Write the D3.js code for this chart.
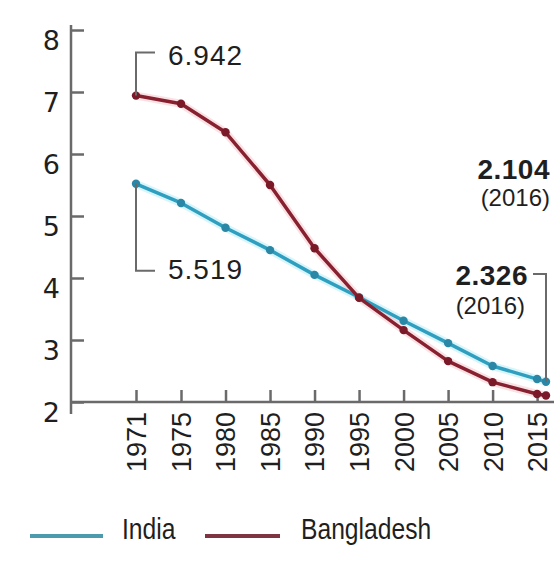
<!DOCTYPE html>
<html>
<head>
<meta charset="utf-8">
<script src="https://cdn.jsdelivr.net/npm/d3@7"></script>
<style>
  html, body { margin: 0; padding: 0; background: #fff; }
  svg { display: block; }
  text { font-family: "Liberation Sans", Arial, sans-serif; fill: #1f1f1f; }
</style>
</head>
<body>
<svg id="chart" width="554" height="574"></svg>
<script>
// Total fertility rate, births per woman
const years      = [1971, 1975, 1980, 1985, 1990, 1995, 2000, 2005, 2010, 2015, 2016];
const tickYears  = [1971, 1975, 1980, 1985, 1990, 1995, 2000, 2005, 2010, 2015];
const india      = [5.519, 5.21, 4.81, 4.45, 4.05, 3.69, 3.31, 2.95, 2.58, 2.37, 2.326];
const bangladesh = [6.942, 6.81, 6.35, 5.50, 4.48, 3.68, 3.16, 2.66, 2.32, 2.13, 2.104];
const yTicks     = [2, 3, 4, 5, 6, 7, 8];
const seriesNames = ["India", "Bangladesh"];

const colors = { India: "#2f9fbf", Bangladesh: "#87202f" };
const halos  = { India: "#a6e8f6", Bangladesh: "#f4bcc4" };
const dots   = { India: "#2a88a6", Bangladesh: "#7a1a28" };

const svg = d3.select("#chart");

// 1971 sits one slot before 1975; the rest are evenly spaced by year
const x = d3.scaleLinear().domain([1971, 1975, 2016]).range([136, 181, 546]);
const y = d3.scaleLinear().domain([2, 8]).range([402, 30]);

const axisColor = "#6a6a6a";

// y axis
const yAxis = svg.append("g")
  .attr("transform", "translate(71,0)")
  .call(d3.axisLeft(y).tickValues(yTicks).tickFormat(d3.format("d"))
    .tickSizeInner(-13).tickSizeOuter(0).tickPadding(11));
yAxis.select(".domain").remove();
yAxis.selectAll(".tick line").attr("stroke", axisColor).attr("stroke-width", 2.5);
yAxis.selectAll(".tick text")
  .attr("dy", "0.71em")
  .style("font-family", "'DejaVu Sans', sans-serif")
  .style("font-size", "27px")
  .attr("fill", "#1f1f1f");
svg.append("line")
  .attr("x1", 71).attr("x2", 71)
  .attr("y1", y(8) - 5).attr("y2", y(2) + 12)
  .attr("stroke", axisColor).attr("stroke-width", 2.5);

// x axis
const xAxis = svg.append("g")
  .attr("transform", `translate(0,${y(2)})`)
  .call(d3.axisBottom(x).tickValues(tickYears).tickFormat(d3.format("d"))
    .tickSizeInner(-12).tickSizeOuter(0));
xAxis.select(".domain").remove();
xAxis.selectAll(".tick line").attr("stroke", axisColor).attr("stroke-width", 2.5);
xAxis.selectAll(".tick text")
  .attr("transform", "rotate(-90)")
  .attr("text-anchor", "end")
  .attr("x", -10)
  .attr("y", 0)
  .attr("dy", "0.35em")
  .style("font-size", "27px")
  .attr("fill", "#1f1f1f");
svg.append("line")
  .attr("x1", 71).attr("x2", 554)
  .attr("y1", y(2)).attr("y2", y(2))
  .attr("stroke", axisColor).attr("stroke-width", 2.5);

// series
const series = [
  { name: seriesNames[0], values: india },
  { name: seriesNames[1], values: bangladesh }
];
const line = d3.line()
  .x((d, i) => x(years[i]))
  .y(d => y(d))
  .curve(d3.curveLinear);

const g = svg.append("g");
series.forEach(s => {
  g.append("path")
    .attr("d", line(s.values))
    .attr("fill", "none")
    .attr("stroke", halos[s.name])
    .attr("stroke-width", 8)
    .attr("stroke-opacity", 0.45)
    .attr("stroke-linejoin", "round");
});
series.forEach(s => {
  g.append("path")
    .attr("d", line(s.values))
    .attr("fill", "none")
    .attr("stroke", colors[s.name])
    .attr("stroke-width", 3.5)
    .attr("stroke-linejoin", "round");
  g.selectAll(null)
    .data(s.values)
    .join("circle")
    .attr("cx", (d, i) => x(years[i]))
    .attr("cy", d => y(d))
    .attr("r", 4.2)
    .attr("fill", dots[s.name]);
});

// annotations
const ann = svg.append("g");
const bracket = { stroke: "#6a6a6a", width: 2 };

const b0x = x(years[0]), b0y = y(bangladesh[0]);
ann.append("path")
  .attr("d", `M${b0x},${b0y}V${b0y - 43}H${b0x + 19}`)
  .attr("fill", "none").attr("stroke", bracket.stroke).attr("stroke-width", bracket.width);
ann.append("text")
  .attr("x", b0x + 32).attr("y", b0y - 31)
  .style("font-size", "28px").style("letter-spacing", "1px")
  .text(d3.format(".3f")(bangladesh[0]));

const i0x = x(years[0]), i0y = y(india[0]);
ann.append("path")
  .attr("d", `M${i0x},${i0y}V${i0y + 87}H${i0x + 19}`)
  .attr("fill", "none").attr("stroke", bracket.stroke).attr("stroke-width", bracket.width);
ann.append("text")
  .attr("x", i0x + 32).attr("y", i0y + 95)
  .style("font-size", "28px").style("letter-spacing", "1px")
  .text(d3.format(".3f")(india[0]));

const last = years.length - 1;
const iLx = x(years[last]), iLy = y(india[last]);
ann.append("path")
  .attr("d", `M${iLx},${iLy}V274H${iLx - 13}`)
  .attr("fill", "none").attr("stroke", bracket.stroke).attr("stroke-width", bracket.width);
ann.append("text")
  .attr("x", 528).attr("y", 285).attr("text-anchor", "end")
  .style("font-size", "28px").style("font-weight", "bold").style("letter-spacing", "0.5px")
  .text(d3.format(".3f")(india[last]));
ann.append("text")
  .attr("x", 525).attr("y", 314).attr("text-anchor", "end")
  .style("font-size", "24px")
  .text(`(${years[last]})`);

ann.append("text")
  .attr("x", 550).attr("y", 179).attr("text-anchor", "end")
  .style("font-size", "28px").style("font-weight", "bold").style("letter-spacing", "0.5px")
  .text(d3.format(".3f")(bangladesh[last]));
ann.append("text")
  .attr("x", 550).attr("y", 206).attr("text-anchor", "end")
  .style("font-size", "24px")
  .text(`(${years[last]})`);

// legend
const legend = svg.append("g");
const legendItems = [
  { name: seriesNames[0], x1: 30, x2: 103, tx: 122, color: "#4b9aad" },
  { name: seriesNames[1], x1: 205, x2: 280, tx: 301, color: "#7e3541" }
];
legendItems.forEach(it => {
  legend.append("line")
    .attr("x1", it.x1).attr("x2", it.x2)
    .attr("y1", 536).attr("y2", 536)
    .attr("stroke", it.color).attr("stroke-width", 4);
  // condensed lettering
  legend.append("text")
    .attr("transform", `translate(${it.tx},539) scale(0.85,1)`)
    .style("font-size", "29px")
    .text(it.name);
});
</script>
</body>
</html>
